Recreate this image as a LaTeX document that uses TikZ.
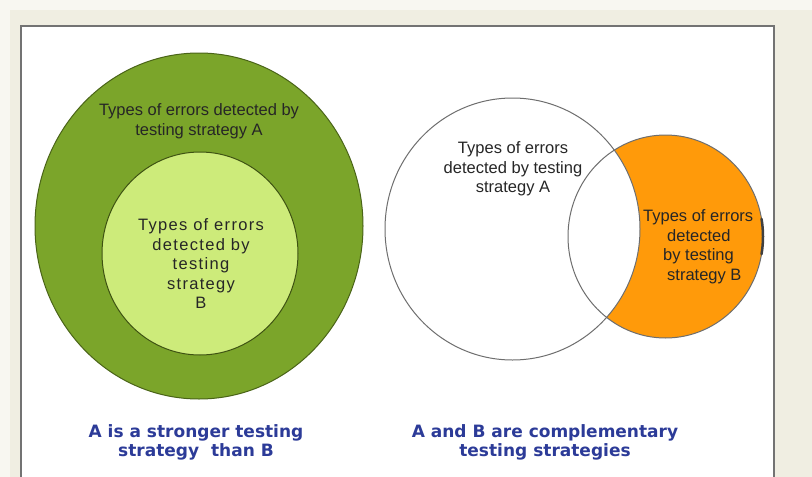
\documentclass[tikz,border=0pt]{standalone}
\usepackage{fontspec}
\setmainfont{Liberation Sans}
\newfontfamily\capfont{DejaVu Sans}
\newfontfamily\airyfont[LetterSpace=8]{Liberation Sans}
\usetikzlibrary{shapes.geometric}

\definecolor{rimbg}{HTML}{F8F7F1}
\definecolor{pagebg}{HTML}{F0EEE2}
\definecolor{panelline}{HTML}{737373}
\definecolor{leafgreen}{HTML}{7BA52A}
\definecolor{leafline}{HTML}{4A6418}
\definecolor{limegreen}{HTML}{CDEB7A}
\definecolor{limeline}{HTML}{3E5212}
\definecolor{orangeB}{HTML}{FF9A0A}
\definecolor{ringgray}{HTML}{6E6E6E}
\definecolor{capblue}{HTML}{2C3B98}

\tikzset{
  setshape/.style={ellipse, inner sep=0pt, line width=1pt},
  lbl/.style={font=\fontsize{16.5}{19.5}\selectfont, text=black!85, inner sep=0pt, align=center},
  caption/.style={font=\capfont\bfseries\fontsize{17}{19.5}\selectfont, text=capblue, inner sep=0pt, align=center}
}

\begin{document}
\begin{tikzpicture}[x=1pt,y=-1pt]
\useasboundingbox (0,0) rectangle (812,477);

% page and white panel
\fill[rimbg] (0,0) rectangle (812,477);
\fill[pagebg] (10,10) rectangle (812,477);
\draw[panelline, line width=1.5pt, fill=white] (21,26) rectangle (774,490);

% A is stronger than B: nested sets
\node[setshape, draw=leafline, fill=leafgreen, minimum width=328pt, minimum height=346pt] (outerA) at (199,226) {};
\node[setshape, draw=limeline, fill=limegreen, minimum width=196pt, minimum height=203pt] (innerB) at (200,253.5) {};
\node[lbl] (outerAtxt) at (199,121) {Types of errors detected by\\testing strategy A};
\node[lbl, font=\airyfont\fontsize{16.5}{19.5}\selectfont] (innerBtxt) at (201,264) {Types of errors\\detected by\\testing\\strategy\\B};

% A and B complementary: overlapping sets
\node[setshape, fill=orangeB, minimum width=195pt, minimum height=203pt] (setB) at (665.5,236.5) {};
\node[setshape, draw=ringgray, fill=white, minimum width=255pt, minimum height=262pt] (setA) at (512.5,229) {};
\draw[ringgray, line width=1pt] (setB.center) ellipse [x radius=97.5, y radius=101.5];
\draw[black!75, line width=2.5pt, line cap=round] (setB.center) ++(10:97.5 and 101.5)
  arc[start angle=10, end angle=-10, x radius=97.5, y radius=101.5];
\node[lbl] (setAtxt) at (513,169) {Types of errors\\detected by testing\\strategy A};
\node[lbl, align=left, anchor=west] (setBtxt) at (643,246.5) {Types of errors\\\hspace*{24pt}detected\\\hspace*{20pt}by testing\\\hspace*{24pt}strategy B};

% captions
\node[caption] (capLeft) at (196,442.5) {A is a stronger testing\\strategy\ \ than B};
\node[caption] (capRight) at (545,442.5) {A and B are complementary\\testing strategies};
\end{tikzpicture}
\end{document}
